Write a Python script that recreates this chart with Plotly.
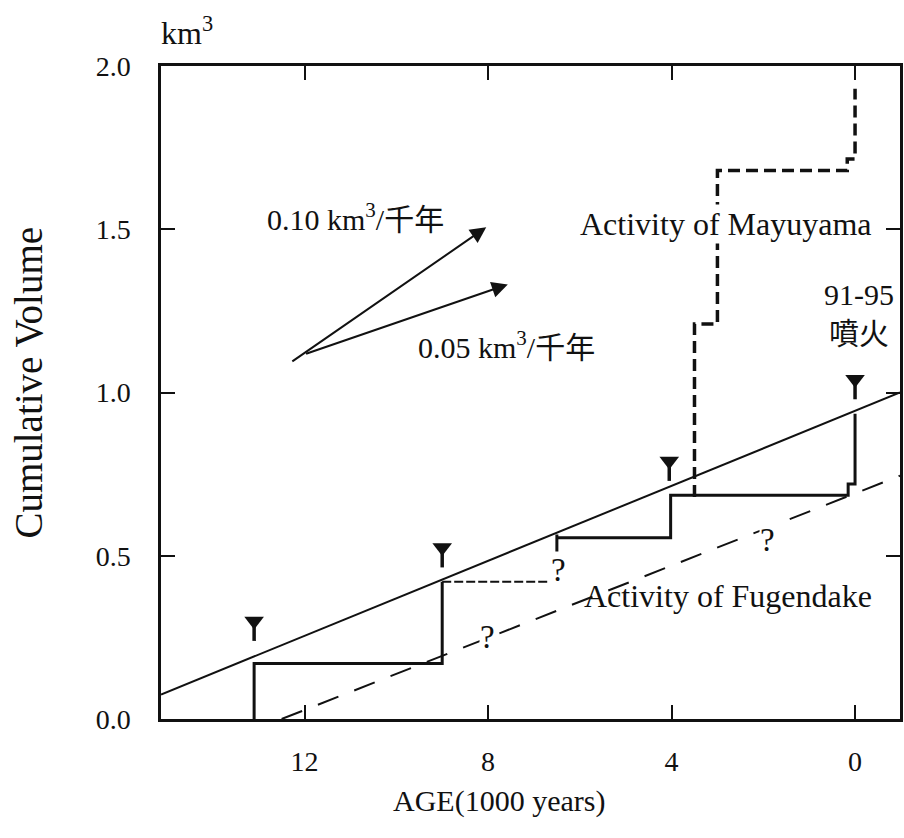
import plotly.graph_objects as go

# ---------------- data ----------------
x_range = [15.13, -0.98]          # AGE (1000 years), reversed
y_range = [0.0, 2.0]              # km3
x_tickvals = [12, 8, 4, 0]
x_ticktext = ["12", "8", "4", "0"]
y_tickvals = [0.0, 0.5, 1.0, 1.5, 2.0]
y_ticktext = ["0.0", "0.5", "1.0", "1.5", "2.0"]

# long-term trend lines
trend_age = [15.13, -0.98]
trend_val = [0.075, 1.0]
lower_age = [12.5, -0.98]
lower_val = [0.0, 0.745]

# Fugendake cumulative steps (solid parts)
fug1_age = [13.1, 13.1, 9.0, 9.0]
fug1_val = [0.0, 0.17, 0.17, 0.42]
fug_gap_age = [9.0, 6.7]
fug_gap_val = [0.42, 0.42]
fug2_age = [6.5, 6.5, 6.5, 4.02, 4.02, 0.15, 0.15, 0.0, 0.0]
fug2_val = [0.50, 0.565, 0.555, 0.555, 0.685, 0.685, 0.72, 0.72, 0.935]

# Mayuyama steps (thick dashed)
may_age = [3.5, 3.5, 3.0, 3.0, 0.17, 0.17, 0.0, 0.0]
may_val = [0.68, 1.21, 1.21, 1.68, 1.68, 1.715, 1.715, 1.93]

# eruption markers
erupt_age = [13.1, 9.0, 4.05, 0.0]
erupt_top = [0.325, 0.55, 0.815, 1.065]

# rate arrows
rate_tail_age = [12.3, 12.0]
rate_tail_val = [1.092, 1.117]
rate_head_age = [8.04, 7.57]
rate_head_val = [1.506, 1.331]
rate_label = ["0.10 km<sup>3</sup>/千年", "0.05 km<sup>3</sup>/千年"]
rate_label_age = [10.89, 7.6]
rate_label_val = [1.537, 1.145]

q_age = [6.47, 1.91, 8.01]
q_val = [0.456, 0.548, 0.251]

FONT = "Liberation Serif, Noto Sans CJK JP, serif"
INK = "#111111"
PX = (y_range[1] - y_range[0]) / 653.0  # value per pixel

fig = go.Figure()

fig.add_trace(go.Scatter(x=trend_age, y=trend_val, mode="lines",
                         line=dict(color=INK, width=2), hoverinfo="skip"))
fig.add_trace(go.Scatter(x=lower_age, y=lower_val, mode="lines",
                         line=dict(color=INK, width=2, dash="22px,17px"), hoverinfo="skip"))
fig.add_trace(go.Scatter(x=fug1_age, y=fug1_val, mode="lines",
                         line=dict(color=INK, width=3), hoverinfo="skip"))
fig.add_trace(go.Scatter(x=fug_gap_age, y=fug_gap_val, mode="lines",
                         line=dict(color=INK, width=2, dash="9px,3px"), hoverinfo="skip"))
fig.add_trace(go.Scatter(x=fug2_age, y=fug2_val, mode="lines",
                         line=dict(color=INK, width=3), hoverinfo="skip"))
fig.add_trace(go.Scatter(x=may_age, y=may_val, mode="lines",
                         line=dict(color=INK, width=3.5, dash="12px,6px"), hoverinfo="skip"))

# eruption arrow markers: head + stem
stem_x, stem_y = [], []
for a, t in zip(erupt_age, erupt_top):
    stem_x += [a, a, None]
    stem_y += [t - 12 * PX, t - 28 * PX, None]
fig.add_trace(go.Scatter(x=stem_x, y=stem_y, mode="lines",
                         line=dict(color=INK, width=3.5), hoverinfo="skip"))
fig.add_trace(go.Scatter(x=erupt_age, y=[t - 8 * PX for t in erupt_top], mode="markers",
                         marker=dict(symbol="triangle-down", size=17, color=INK,
                                     line=dict(width=0)), hoverinfo="skip"))

annotations = []
for ta, tv, ha, hv in zip(rate_tail_age, rate_tail_val, rate_head_age, rate_head_val):
    annotations.append(dict(x=ha, y=hv, ax=ta, ay=tv, xref="x", yref="y",
                            axref="x", ayref="y", text="", showarrow=True,
                            arrowhead=2, arrowsize=1.6, arrowwidth=2,
                            arrowcolor=INK, standoff=0, startstandoff=0))
for lab, la, lv in zip(rate_label, rate_label_age, rate_label_val):
    annotations.append(dict(x=la, y=lv, xref="x", yref="y", text=lab,
                            xanchor="center", yanchor="middle",
                            showarrow=False, font=dict(size=30, color=INK, family=FONT)))
for qa, qv in zip(q_age, q_val):
    annotations.append(dict(x=qa, y=qv, xref="x", yref="y", text="?",
                            xanchor="center", yanchor="middle",
                            showarrow=False, bgcolor="white", borderpad=0,
                            font=dict(size=33, color=INK, family=FONT)))
annotations += [
    dict(x=2.82, y=1.516, xref="x", yref="y", text="Activity of Mayuyama",
         xanchor="center", yanchor="middle",
         showarrow=False, bgcolor="white", font=dict(size=32, color=INK, family=FONT)),
    dict(x=2.78, y=0.377, xref="x", yref="y", text="Activity of Fugendake",
         xanchor="center", yanchor="middle",
         showarrow=False, font=dict(size=32, color=INK, family=FONT)),
    dict(x=-0.09, y=1.24, xref="x", yref="y", text="91-95<br>噴火",
         xanchor="center", yanchor="middle",
         showarrow=False, font=dict(size=30, color=INK, family=FONT)),
    dict(x=0.035, y=1.0536, xref="paper", yref="paper", text="km<sup>3</sup>",
         xanchor="center", yanchor="middle",
         showarrow=False, font=dict(size=32, color=INK, family=FONT)),
    dict(x=-0.1806, y=0.5145, xref="paper", yref="paper", text="Cumulative Volume",
         xanchor="center", yanchor="middle",
         textangle=-90, showarrow=False, font=dict(size=39, color=INK, family=FONT)),
    dict(x=0.458, y=-0.1256, xref="paper", yref="paper", text="AGE(1000 years)",
         xanchor="center", yanchor="middle",
         showarrow=False, font=dict(size=30, color=INK, family=FONT)),
]

axis_common = dict(showline=True, linecolor=INK, linewidth=2.5, mirror="ticks",
                   ticks="inside", ticklen=14, tickwidth=2, tickcolor=INK,
                   showgrid=False, zeroline=False,
                   tickfont=dict(size=28, color=INK, family=FONT))

fig.update_layout(
    width=904, height=838,
    margin=dict(l=161, r=1, t=66, b=119),
    paper_bgcolor="white", plot_bgcolor="white",
    showlegend=False,
    annotations=annotations,
    xaxis=dict(range=x_range, tickvals=x_tickvals, ticktext=x_ticktext,
               ticklabelstandoff=16, **axis_common),
    yaxis=dict(range=y_range, tickvals=y_tickvals, ticktext=y_ticktext,
               ticklabelstandoff=22, **axis_common),
)

fig.write_html("out.html")
